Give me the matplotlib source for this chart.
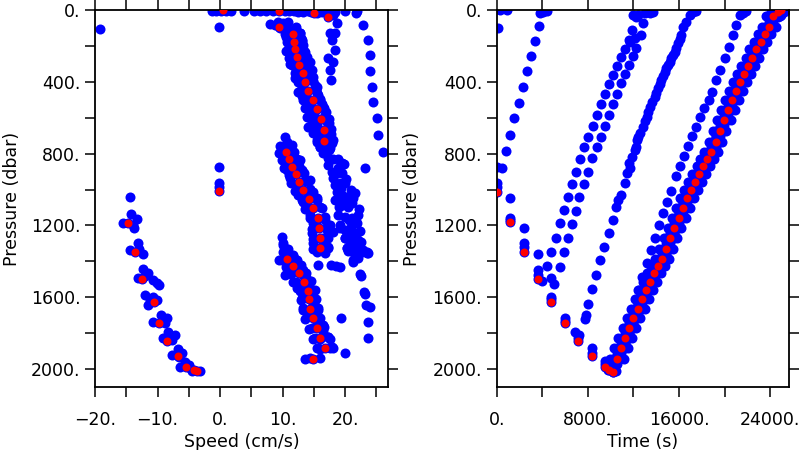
import matplotlib
matplotlib.use("Agg")
import matplotlib.pyplot as plt
from matplotlib.ticker import MultipleLocator, FuncFormatter

# ---------------- left panel : speed (cm/s) vs pressure (dbar) ----------------
# instrument (red) - descent
red_speed_down = [-0.1, -14.7, -13.6, -12.5, -10.5, -9.8, -8.5, -6.8, -5.4, -4.1, -3.7]
red_pres_down = [1008, 1185, 1348, 1499, 1627, 1742, 1844, 1926, 1987, 2005, 2011]
# instrument (red) - ascent
red_speed_up = [14.9, 16.8, 16.0, 15.5, 14.8, 14.4, 14.2, 14.0, 13.4, 12.6, 11.7, 10.7,
                16.0, 16.0, 15.9, 15.6, 14.8, 14.3, 13.2, 12.6, 12.2, 11.5, 11.1, 10.6,
                16.7, 16.6, 16.2, 15.5, 14.8, 14.1, 13.6, 13.2, 12.7, 12.3, 12.05, 11.9, 11.6, 9.4,
                17.2, 15.1, 9.4, 0.4]
red_pres_up = [1944, 1885, 1826, 1770, 1718, 1666, 1612, 1564, 1513, 1467, 1426, 1387,
               1328, 1272, 1213, 1157, 1103, 1053, 1003, 958, 914, 873, 832, 793,
               730, 668, 609, 553, 501, 449, 399, 349, 306, 264, 219, 176, 133, 97,
               37, 15, 3, 2]

# bins (blue)
surf_s = [-1.3, -0.6, 0.2, 1.0, 1.8, 3.8, 5.4, 6.4, 7.4, 8.4, 10.4, 11.1, 11.8,
          12.5, 13.3, 14.0, 14.6, 15.5, 16.3, 17.4, 18.3, 19.9, 21.9]
surf_p = [3, 3, 5, 3, 3, 7, 5, 5, 5, 5, 3, 5, 3, 13, 9, 5, 9, 15, 13, 11, 9, 5, 7]
zero_s = [-0.1, -0.1, -0.1, -0.1, -19.2]
zero_p = [93, 873, 966, 984, 107]
down_s = [-14.4, -14.3, -13.3, -15.5, -13.8, -14.0,
          -13.2, -14.4, -12.3, -13.0,
          -12.3, -11.5, -13.2, -10.7, -10.1, -9.7, -12.0,
          -12.0, -11.2, -10.1, -11.5, -10.8,
          -9.4, -8.5, -10.7, -8.8, -9.2,
          -8.3, -7.2, -9.1, -7.7, -8.0,
          -6.8, -6.1, -7.7, -6.5,
          -5.6, -6.4, -4.8, -3.2, -5.0, -4.5]
down_p = [1043, 1138, 1166, 1185, 1213, 1195,
          1300, 1337, 1359, 1330,
          1445, 1463, 1495, 1504, 1519, 1532, 1480,
          1588, 1616, 1616, 1643, 1600,
          1699, 1718, 1736, 1745, 1725,
          1792, 1811, 1829, 1838, 1815,
          1890, 1913, 1922, 1935,
          1959, 1987, 1996, 2009, 1980, 2010]
band1_s = [8.0, 8.8, 9.3, 10.1, 10.9, 10.7, 11.2, 12.0, 12.5, 12.8, 13.1, 13.3, 12.3, 13.6,
           13.9, 12.5, 14.4, 13.3, 14.7, 14.1, 14.9, 12.5, 15.5, 13.3, 15.5, 16.0, 13.6, 16.5,
           13.9, 16.8, 14.4, 17.1, 15.2, 17.3, 18.1, 16.0, 17.6, 16.8,
           17.1, 18.1, 18.7, 17.6, 18.4, 17.9, 18.4, 17.3, 18.1, 17.6, 17.7,
           10.6, 13.0, 11.0, 13.3, 11.4, 13.8, 11.7, 14.3, 12.2, 14.7, 12.6, 15.2, 13.1,
           15.7, 13.7, 16.3, 14.4, 17.0, 15.0, 17.4, 15.5, 17.8, 15.8, 17.9, 16.0]
band1_p = [78, 84, 65, 74, 65, 102, 121, 111, 149, 130, 167, 195, 204, 232,
           260, 269, 288, 306, 334, 362, 371, 455, 427, 501, 464, 501, 548, 539,
           598, 585, 646, 622, 687, 696, 724, 761, 771, 799,
           19, 28, 74, 130, 130, 167, 223, 269, 288, 334, 390,
           150, 155, 195, 240, 240, 280, 285, 320, 330, 380, 380, 420, 430,
           475, 480, 525, 525, 570, 580, 630, 640, 690, 700, 740, 745]
band1_fill_s = [15.5, 17.9, 15.4, 17.8, 15.0, 17.4, 14.3, 16.7, 13.6, 16.0, 12.9, 15.3,
                12.4, 14.8, 12.0, 14.4, 11.5, 13.9, 11.1, 13.5, 10.9, 13.3, 10.7, 13.1,
                10.4, 12.8, 9.6, 12.2, 16.3, 14.6, 13.1, 12.0, 11.2, 10.5]
band1_fill_p = [735, 725, 675, 665, 615, 605, 558, 548, 505, 497, 452, 446,
                402, 396, 352, 346, 309, 303, 267, 261, 222, 216, 179, 173,
                136, 130, 100, 95, 700, 585, 480, 380, 300, 230]
trail_s = [14.1, 14.9, 15.5, 16.0, 16.5, 17.3, 18.1, 18.9, 17.3, 17.9, 18.7, 19.5, 18.1,
           18.4, 19.2, 20.0, 18.7, 19.5, 20.3, 18.4, 19.5, 20.5, 21.1, 18.9, 20.0, 21.1,
           21.9, 19.2, 20.0, 20.8, 21.6, 20.0, 20.8, 21.9, 20.3, 21.3, 22.7, 23.5,
           19.8, 21.5, 22.2, 19.0, 21.0,
           15.0, 16.2, 17.0, 17.5, 19.5, 18.9, 20.2, 19.3, 20.9, 21.2, 19.8, 22.0, 20.6,
           22.3, 21.2, 22.5, 21.6, 22.9]
trail_p = [650, 687, 724, 761, 799, 827, 832, 832, 864, 901, 910, 910, 938,
           975, 966, 966, 1013, 1031, 1040, 1059, 1087, 1096, 1077, 1142, 1152, 1161,
           1189, 1198, 1226, 1244, 1244, 1272, 1300, 1319, 1328, 1347, 1347, 1356,
           860, 1020, 1110, 1100, 1210,
           660, 700, 740, 780, 850, 880, 940, 990, 1000, 1050, 1060, 1140, 1170,
           1230, 1270, 1290, 1330, 1335]
far_s = [21.8, 22.9, 23.6, 24.0, 23.9, 24.3, 24.5, 25.1, 25.2, 26.1, 23.1]
far_p = [15, 84, 167, 251, 338, 427, 514, 604, 696, 789, 882]
band2_s = [10.4, 10.7, 9.6, 10.1, 11.5, 11.7, 10.4, 12.8, 11.2, 13.1, 10.7, 11.7, 13.6,
           11.2, 12.3, 13.3, 14.4, 12.5, 14.9, 13.3, 15.5, 13.9, 16.3, 14.4, 16.8, 14.9,
           17.1, 14.7, 16.5, 14.9, 17.3, 15.5, 16.8,
           14.8, 17.2, 14.8, 17.2, 14.7, 17.1, 14.4, 16.8, 13.6, 16.0, 13.1, 15.5, 12.0,
           14.4, 11.4, 13.8, 11.0, 13.4, 10.3, 12.7, 9.9, 12.3, 9.4, 11.8, 11.0, 12.3,
           14.0, 15.3, 16.5]
band2_p = [706, 734, 758, 771, 752, 799, 817, 836, 855, 892, 892, 910, 947,
           938, 975, 1003, 947, 1031, 1013, 1068, 1059, 1096, 1105, 1142, 1170, 1189,
           1226, 1244, 1272, 1300, 1319, 1347, 1356,
           1330, 1325, 1275, 1268, 1218, 1208, 1160, 1152, 1108, 1098, 1058, 1048, 1008,
           998, 962, 954, 918, 910, 878, 868, 836, 828, 797, 789, 760, 880,
           1030, 1190, 1300]
band3_s = [10.1, 11.2, 9.9, 12.3, 10.4, 11.5, 12.8, 11.7, 13.3, 12.3, 13.9, 13.1, 14.9,
           13.3, 15.2, 13.9, 15.7, 14.7, 16.5, 15.2, 17.3, 15.5, 17.9, 13.6, 14.4,
           9.9, 10.1, 10.4, 10.7, 11.7, 11.2, 12.3, 12.8,
           16.0, 17.6, 16.0, 17.6, 16.5, 15.5, 15.0, 14.8, 14.6, 14.2, 13.8, 13.2, 12.5,
           11.5, 10.8,
           16.0, 15.6, 18.0, 14.8, 17.2, 14.3, 16.7, 13.6, 16.0, 13.2, 15.6, 13.0, 15.4,
           12.8, 15.2, 12.2, 14.6, 11.4, 13.8, 10.5, 12.9, 9.5, 11.9, 10.0, 10.8]
band3_p = [1346, 1374, 1393, 1393, 1476, 1448, 1430, 1513, 1476, 1551, 1532, 1606, 1569,
           1662, 1616, 1708, 1671, 1773, 1755, 1829, 1820, 1885, 1879, 1944, 1940,
           1262, 1309, 1346, 1383, 1365, 1420, 1402, 1439,
           1888, 1882, 1830, 1835, 1790, 1740, 1690, 1640, 1590, 1540, 1490, 1450, 1420,
           1400, 1360,
           1940, 1885, 1880, 1830, 1822, 1775, 1765, 1722, 1714, 1670, 1662, 1616, 1608,
           1568, 1560, 1517, 1509, 1471, 1463, 1430, 1422, 1390, 1383, 1300, 1330]
midr_s = [20.4, 22.1, 23.6, 21.3, 22.4, 23.0, 23.4, 23.7, 23.7, 19.4, 20.0, 17.7, 18.5,
          19.1, 15.6, 19.2, 20.8, 20.0, 21.6, 22.1, 20.3, 21.3, 23.5, 21.3, 22.1, 17.6,
          18.1, 22.6, 23.2, 23.9]
midr_p = [1341, 1346, 1352, 1402, 1471, 1569, 1643, 1736, 1825, 1718, 1909, 1422, 1425,
          1434, 1420, 1216, 1235, 1272, 1263, 1281, 1328, 1319, 1346, 1393, 1383, 1198,
          1235, 1480, 1580, 1655]

# ---------------- right panel : time (s) vs pressure (dbar) ----------------
red_time_down = [50, 1190, 2360, 3590, 4760, 5980, 7150, 8370, 9490, 9860, 10160]
red_tpres_down = [1012, 1183, 1348, 1499, 1625, 1742, 1842, 1926, 1987, 2005, 2015]
red_time_up = [10540, 10920, 11270, 11650, 12000, 12380, 12730, 13080, 13430, 13810, 14160,
               14510, 14860, 15240, 15590, 15970, 16320, 16670, 17020, 17400, 17750, 18130,
               18480, 18830, 19210, 19560, 19940, 20290, 20640, 20990, 21340, 21690, 22070,
               22430, 22780, 23150, 23500, 23880, 24260, 24640, 24970]
red_tpres_up = [1944, 1883, 1825, 1770, 1714, 1664, 1612, 1562, 1513, 1467, 1426,
                1385, 1330, 1272, 1213, 1157, 1101, 1049, 1003, 958, 914, 869,
                828, 791, 733, 672, 613, 557, 501, 449, 401, 355, 310,
                266, 219, 178, 134, 93, 33, 11, 0]
# bins above / below the instrument during the ascent
band_p_above = [1916, 1855, 1797, 1742, 1686, 1636, 1584, 1534, 1485, 1439, 1398,
                1357, 1302, 1244, 1185, 1129, 1073, 1021, 975, 930, 886, 841,
                800, 763, 705, 644, 585, 529, 473, 421, 373, 327, 282,
                238, 191, 150, 106, 65, 5, -17, -28]
band_p_below = [1972, 1911, 1853, 1798, 1742, 1692, 1640, 1590, 1541, 1495, 1454,
                1413, 1358, 1300, 1241, 1185, 1129, 1077, 1031, 986, 942, 897,
                856, 819, 761, 700, 641, 585, 529, 477, 429, 383, 338,
                294, 247, 206, 162, 121, 61, 39, 28]
band_t_m600 = [9940, 10320, 10670, 11050, 11400, 11780, 12130, 12480, 12830, 13210, 13560,
               13910, 14260, 14640, 14990, 15370, 15720, 16070, 16420, 16800, 17150, 17530,
               17880, 18230, 18610, 18960, 19340, 19690, 20040, 20390, 20740, 21090, 21470,
               21830, 22180, 22550, 22900, 23280, 23660, 24040, 24370]
band_t_m300 = [10240, 10620, 10970, 11350, 11700, 12080, 12430, 12780, 13130, 13510, 13860,
               14210, 14560, 14940, 15290, 15670, 16020, 16370, 16720, 17100, 17450, 17830,
               18180, 18530, 18910, 19260, 19640, 19990, 20340, 20690, 21040, 21390, 21770,
               22130, 22480, 22850, 23200, 23580, 23960, 24340, 24670]
band_t_p300 = [10840, 11220, 11570, 11950, 12300, 12680, 13030, 13380, 13730, 14110, 14460,
               14810, 15160, 15540, 15890, 16270, 16620, 16970, 17320, 17700, 18050, 18430,
               18780, 19130, 19510, 19860, 20240, 20590, 20940, 21290, 21640, 21990, 22370,
               22730, 23080, 23450, 23800, 24180, 24560, 24940, 25270]
band_t_p600 = [11140, 11520, 11870, 12250, 12600, 12980, 13330, 13680, 14030, 14410, 14760,
               15110, 15460, 15840, 16190, 16570, 16920, 17270, 17620, 18000, 18350, 18730,
               19080, 19430, 19810, 20160, 20540, 20890, 21240, 21590, 21940, 22290, 22670,
               23030, 23380, 23750, 24100, 24480, 24860, 25240, 25570]
tzero_t = [290, 870, 140, 0, 440, 20, 20]
tzero_p = [0, 0, 102, 873, 882, 966, 984]
l1_t = [810, 1190, 1540, 1930, 2280, 2630, 3000, 3360, 3700, 3790, 4080, 4380]
l1_p = [785, 696, 604, 516, 429, 342, 255, 171, 87, 19, 9, 5]
tdown_t = [1190, 1190, 2360, 2360, 3590, 3590, 4760, 4760, 5980, 5980, 6860, 7240, 7150,
           8370, 8370, 9490, 9490, 9780, 10220, 10510, 1190, 2360, 3590, 4760, 5020, 3940]
tdown_p = [1160, 1172, 1300, 1319, 1450, 1477, 1597, 1610, 1717, 1730, 1792, 1810, 1825,
           1882, 1910, 1954, 1970, 2005, 2015, 2010, 1046, 1213, 1359, 1495, 1526, 1508]
la_t = [4430, 4790, 5170, 5520, 5870, 6250, 6570, 6950, 7300, 7680, 8030, 8410, 8760,
        9110, 9460, 9810, 10160, 10540, 10890, 11240, 11620, 11910, 12200, 11970, 12400]
la_p = [1426, 1346, 1268, 1188, 1114, 1040, 969, 901, 832, 765, 706, 646, 585,
        525, 470, 412, 362, 312, 264, 217, 167, 111, 37, 28, 28]
lb_t = [5520, 5870, 6220, 6570, 6950, 7240, 7650, 8030, 8370, 8760, 9110, 9460, 9810,
        10160, 10540, 10890, 11240, 11620, 11970, 12260, 11680, 12110, 12700, 12840, 12990,
        13430, 13720]
lb_p = [1434, 1350, 1268, 1192, 1118, 1040, 969, 901, 826, 765, 706, 644, 585,
        525, 470, 408, 357, 306, 256, 213, 176, 158, 139, 74, 19, 19, 10]
l2_t = [7740, 7850, 7970, 8350, 8700, 9050, 9430, 9810, 10160, 10510, 10600, 10890, 11240,
        11390, 11620, 11680, 11910, 12120, 12200, 12320, 12400, 12550, 12840, 12980, 13190,
        13310, 13430, 13650, 13870, 14010, 14160, 14300, 14450, 14600, 14740, 14880, 15030,
        15180, 15330, 15480, 15620, 15760, 15910, 16060, 16210, 16350, 16640, 16930, 17220,
        17510]
l2_p = [1722, 1700, 1638, 1554, 1475, 1395, 1322, 1244, 1172, 1099, 1060, 1029, 966,
        910, 854, 880, 817, 780, 761, 724, 706, 687, 650, 620, 594,
        566, 539, 511, 483, 460, 436, 413, 390, 367, 344, 325, 306,
        288, 269, 250, 232, 209, 186, 162, 139, 93, 65, 28, 9,
        4]
l3_t = [12400, 12790, 13190, 13550, 13900, 14250, 14600, 14980, 15330, 15700, 16060, 16410,
        16760, 17110, 17460, 17840, 18220, 18600, 18920, 19270, 19620, 20000, 20380, 20730,
        21020, 21310, 21600, 21900]
l3_p = [1560, 1489, 1408, 1337, 1268, 1198, 1133, 1068, 1006, 923, 867, 812,
        756, 702, 650, 598, 548, 501, 455, 390, 334, 269, 204, 139,
        84, 30, 19, 5]

BLUE = '#0000ff'
RED = '#ff0000'
S_BLUE = 52
S_RED = 33

plt.rcParams['font.family'] = 'DejaVu Sans'
plt.rcParams['font.size'] = 12.5


def dotfmt(v, pos):
    n = int(round(v))
    return f"{n}.".replace("-", "\u2212")


fig = plt.figure(figsize=(8, 4.5), dpi=100)
ax1 = fig.add_axes([0.11875, 0.14, 0.3666, 0.8378])
ax2 = fig.add_axes([0.6209, 0.14, 0.3654, 0.8378])

left_blue = [(surf_s, surf_p), (zero_s, zero_p), (down_s, down_p), (band1_s, band1_p),
             (band1_fill_s, band1_fill_p), (trail_s, trail_p), (far_s, far_p),
             (band2_s, band2_p), (band3_s, band3_p), (midr_s, midr_p),
             (red_speed_down, red_pres_down), (red_speed_up, red_pres_up)]
for xs, ps in left_blue:
    ax1.scatter(xs, ps, s=S_BLUE, color=BLUE, linewidths=0, zorder=2)
ax1.scatter(red_speed_down, red_pres_down, s=S_RED, color=RED, linewidths=0, zorder=3)
ax1.scatter(red_speed_up, red_pres_up, s=S_RED, color=RED, linewidths=0, zorder=3)

right_blue = [(tzero_t, tzero_p), (l1_t, l1_p), (tdown_t, tdown_p), (la_t, la_p),
              (lb_t, lb_p), (l2_t, l2_p), (l3_t, l3_p),
              (band_t_m600, red_tpres_up), (band_t_m300, red_tpres_up),
              (band_t_p300, red_tpres_up), (band_t_p600, red_tpres_up),
              (band_t_m300, band_p_below), (band_t_p300, band_p_above),
              (red_time_up, band_p_above), (red_time_up, band_p_below),
              (red_time_down, red_tpres_down), (red_time_up, red_tpres_up)]
for xs, ps in right_blue:
    ax2.scatter(xs, ps, s=S_BLUE, color=BLUE, linewidths=0, zorder=2)
ax2.scatter(red_time_down, red_tpres_down, s=S_RED, color=RED, linewidths=0, zorder=3)
ax2.scatter(red_time_up, red_tpres_up, s=S_RED, color=RED, linewidths=0, zorder=3)

ax1.set_xlim(-20, 26.9)
ax2.set_xlim(0, 25650)
ax1.xaxis.set_major_locator(MultipleLocator(10))
ax1.xaxis.set_minor_locator(MultipleLocator(5))
ax2.xaxis.set_major_locator(MultipleLocator(8000))
ax2.xaxis.set_minor_locator(MultipleLocator(4000))

for ax in (ax1, ax2):
    ax.set_ylim(2100, 0)
    ax.yaxis.set_major_locator(MultipleLocator(400))
    ax.yaxis.set_minor_locator(MultipleLocator(200))
    ax.xaxis.set_major_formatter(FuncFormatter(dotfmt))
    ax.yaxis.set_major_formatter(FuncFormatter(dotfmt))
    ax.tick_params(which='both', direction='out', length=7.5, width=1.1,
                   top=True, right=True, colors='black')
    ax.tick_params(axis='x', which='major', pad=10)
    ax.tick_params(axis='y', which='major', pad=3)
    for sp in ax.spines.values():
        sp.set_linewidth(1.3)
    ax.set_ylabel("Pressure (dbar)")
    ax.yaxis.label.set_verticalalignment('center')
    ax.xaxis.label.set_verticalalignment('center')

ax1.set_xlabel("Speed (cm/s)")
ax2.set_xlabel("Time (s)")
ax1.xaxis.set_label_coords(0.5, -0.145)
ax2.xaxis.set_label_coords(0.5, -0.145)
ax1.yaxis.set_label_coords(-0.283, 0.5)
ax2.yaxis.set_label_coords(-0.291, 0.5)

fig.savefig("out.png", dpi=100)
